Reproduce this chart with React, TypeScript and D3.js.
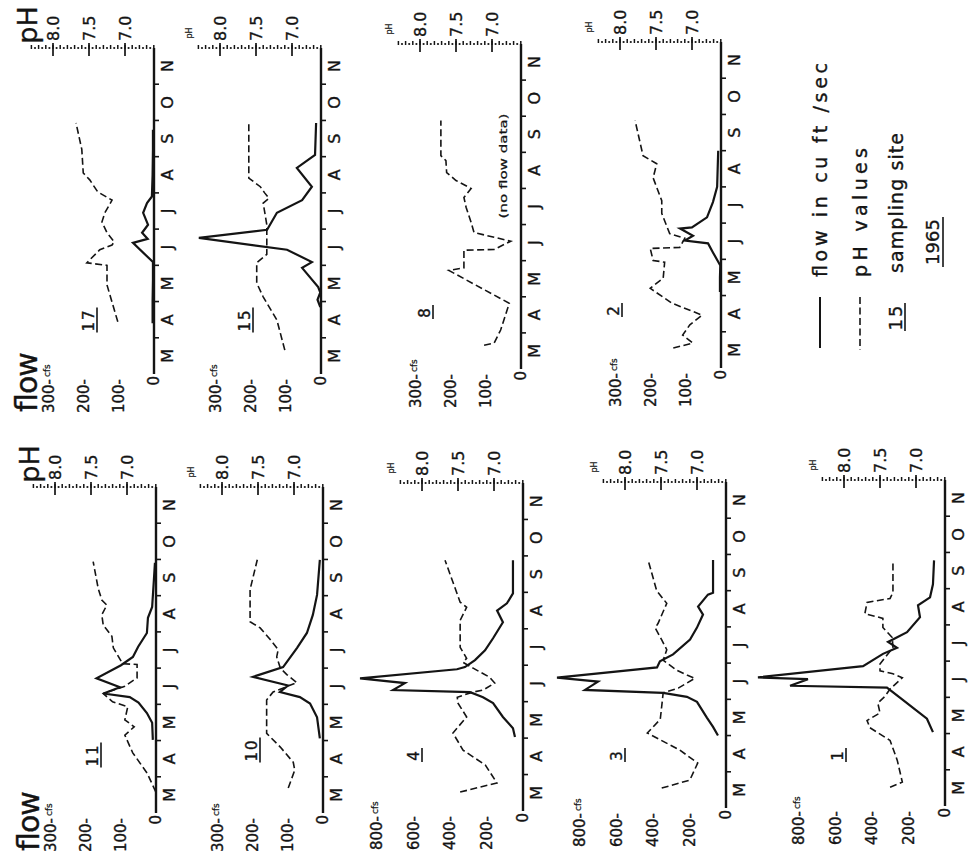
import React from 'react';
import * as d3 from 'd3';

type Pt = [number, number];

// time is a decimal month: 3 = 1 March ... 12 = 1 December
const monthLabels = ['M', 'A', 'M', 'J', 'J', 'A', 'S', 'O', 'N'];
const monthStarts = [3, 4, 5, 6, 7, 8, 9, 10, 11];
const phTickValues = [8.0, 7.5, 7.0];
const phTickLabels = ['8.0', '7.5', '7.0'];
const flowTicksSmall = [0, 100, 200, 300];
const flowTicksLarge = [0, 200, 400, 600, 800];

// [month, cfs]
const flow17: Pt[] = [[4.4, 4], [5.0, 4], [5.6, 3], [6.09, 3], [6.62, 60], [6.73, 18], [6.9, 34], [7.12, 17], [7.45, 31], [7.72, 20], [7.9, 6], [8.5, 4], [9.2, 3], [9.74, 3]];
const flow15: Pt[] = [[4.85, 2], [5.05, 10], [5.25, 2], [5.4, 8], [5.93, 54], [6.09, 26], [6.43, 97], [6.76, 349], [6.98, 154], [7.45, 126], [7.8, 54], [8.17, 26], [8.69, 69], [9.05, 17], [9.93, 14]];
const flow2: Pt[] = [[5.1, 3], [5.5, 3], [5.83, 2], [6.19, 23], [6.44, 37], [6.52, 103], [6.65, 80], [6.85, 117], [6.88, 83], [7.16, 40], [7.58, 23], [8.0, 11], [9.0, 8]];
const flow11: Pt[] = [[5.02, 9], [5.49, 11], [5.76, 26], [6.05, 50], [6.2, 75], [6.3, 150], [6.47, 103], [6.72, 170], [7.08, 100], [7.31, 66], [7.59, 51], [7.97, 26], [8.39, 23], [8.69, 11], [9.44, 6], [9.91, 3]];
const flow10: Pt[] = [[5.06, 9], [5.64, 17], [6.02, 37], [6.2, 66], [6.34, 123], [6.52, 100], [6.76, 200], [7.03, 114], [7.56, 74], [7.97, 46], [8.47, 29], [9.02, 17], [9.99, 9]];
const flow4: Pt[] = [[5.03, 44], [5.27, 55], [5.58, 110], [5.96, 164], [6.12, 219], [6.26, 290], [6.32, 712], [6.51, 647], [6.64, 893], [6.89, 362], [6.95, 318], [7.14, 263], [7.41, 208], [7.74, 164], [8.18, 110], [8.5, 142], [8.7, 88], [8.97, 55], [9.88, 55]];
const flow3: Pt[] = [[5.0, 44], [5.24, 71], [5.49, 104], [5.93, 159], [6.07, 214], [6.18, 345], [6.26, 773], [6.49, 701], [6.6, 926], [6.88, 378], [7.05, 362], [7.24, 290], [7.65, 197], [7.98, 159], [8.34, 126], [8.56, 153], [8.89, 99], [8.94, 71], [9.85, 71]];
const flow1: Pt[] = [[5.04, 66], [5.41, 99], [5.71, 175], [5.99, 247], [6.27, 318], [6.32, 849], [6.5, 751], [6.55, 1025], [6.86, 449], [7.2, 340], [7.37, 263], [7.53, 312], [7.8, 208], [8.21, 137], [8.54, 148], [8.76, 82], [9.12, 66], [9.78, 60]];

// [month, pH]
const ph17: Pt[] = [[4.44, 7.10], [5.46, 7.25], [6.0, 7.25], [6.07, 7.53], [6.43, 7.35], [6.56, 7.18], [6.65, 7.15], [6.9, 7.25], [7.2, 7.32], [7.45, 7.28], [7.8, 7.18], [8.03, 7.38], [8.36, 7.49], [8.55, 7.58], [9.2, 7.6], [9.93, 7.68]];
const ph15: Pt[] = [[3.66, 7.10], [4.49, 7.21], [5.13, 7.40], [5.51, 7.49], [6.07, 7.49], [6.3, 7.35], [7.12, 7.35], [7.72, 7.4], [7.85, 7.32], [8.0, 7.38], [8.17, 7.44], [8.41, 7.6], [9.93, 7.6]];
const ph8: Pt[] = [[3.66, 7.11], [3.72, 6.97], [4.08, 6.88], [4.82, 6.76], [5.73, 7.6], [5.8, 7.39], [6.29, 7.39], [6.31, 6.97], [6.54, 6.74], [6.78, 7.25], [7.06, 7.29], [7.48, 7.36], [7.75, 7.39], [8.0, 7.29], [8.22, 7.5], [8.44, 7.63], [8.77, 7.64], [8.91, 7.71], [9.88, 7.71]];
const ph2: Pt[] = [[3.55, 7.26], [3.69, 6.99], [3.91, 7.13], [4.19, 7.03], [4.46, 6.86], [4.79, 7.28], [5.2, 7.58], [5.48, 7.4], [5.92, 7.38], [5.97, 7.54], [6.3, 7.58], [6.33, 7.17], [6.58, 7.1], [6.71, 7.31], [7.27, 7.42], [7.62, 7.42], [8.25, 7.54], [8.64, 7.49], [8.86, 7.68], [9.83, 7.79]];
const ph11: Pt[] = [[3.58, 6.6], [4.1, 6.72], [4.66, 6.92], [5.15, 7.03], [5.38, 6.9], [5.57, 7.03], [5.93, 6.99], [6.07, 7.2], [6.3, 7.33], [6.5, 7.03], [6.73, 6.86], [7.1, 6.86], [7.12, 7.06], [7.56, 7.19], [7.88, 7.21], [8.19, 7.33], [8.47, 7.35], [8.74, 7.28], [8.88, 7.35], [9.2, 7.4], [9.94, 7.47]];
const ph10: Pt[] = [[3.69, 7.08], [4.18, 6.99], [4.4, 7.01], [4.82, 7.19], [5.2, 7.38], [6.12, 7.38], [6.17, 7.36], [6.34, 7.29], [6.6, 6.96], [6.82, 7.1], [7.0, 7.19], [7.31, 7.24], [7.51, 7.22], [7.79, 7.33], [8.11, 7.47], [8.28, 7.61], [9.17, 7.61], [9.99, 7.51]];
const ph4: Pt[] = [[3.52, 7.47], [3.77, 6.96], [4.26, 7.12], [4.67, 7.43], [5.14, 7.57], [5.58, 7.38], [5.96, 7.5], [6.12, 7.51], [6.26, 7.3], [6.32, 7.15], [6.51, 6.99], [6.67, 7.06], [6.81, 7.19], [6.92, 7.29], [7.08, 7.43], [7.19, 7.38], [7.49, 7.47], [8.23, 7.47], [8.59, 7.38], [8.73, 7.47], [9.88, 7.68]];
const ph3: Pt[] = [[3.55, 7.49], [3.77, 7.1], [4.24, 6.99], [4.6, 7.24], [5.07, 7.69], [5.45, 7.51], [5.81, 7.49], [6.18, 7.47], [6.31, 7.26], [6.58, 7.03], [6.67, 7.14], [6.8, 7.28], [7.08, 7.47], [7.37, 7.42], [7.64, 7.49], [7.97, 7.58], [8.1, 7.54], [8.65, 7.42], [9.0, 7.56], [9.85, 7.68]];
const ph1: Pt[] = [[3.52, 7.36], [3.66, 7.19], [4.26, 7.26], [4.81, 7.36], [5.16, 7.64], [5.36, 7.68], [5.57, 7.5], [5.84, 7.53], [6.03, 7.43], [6.23, 7.36], [6.54, 7.19], [6.65, 7.32], [6.73, 7.5], [6.92, 7.5], [7.1, 7.43], [7.37, 7.32], [7.65, 7.33], [7.93, 7.46], [8.18, 7.46], [8.31, 7.71], [8.62, 7.68], [8.73, 7.36], [8.9, 7.32], [9.78, 7.32]];

const sites = ['17', '15', '8', '2', '11', '10', '4', '3', '1'];
const flowBySite: Record<string, Pt[] | null> = { '17': flow17, '15': flow15, '8': null, '2': flow2, '11': flow11, '10': flow10, '4': flow4, '3': flow3, '1': flow1 };
const phBySite: Record<string, Pt[]> = { '17': ph17, '15': ph15, '8': ph8, '2': ph2, '11': ph11, '10': ph10, '4': ph4, '3': ph3, '1': ph1 };
const flowMaxBySite: Record<string, number> = { '17': 300, '15': 300, '8': 300, '2': 300, '11': 300, '10': 300, '4': 800, '3': 800, '1': 800 };

// layout (screen positions)
const layout: Record<string, { x0: number; yTop: number; yBot: number; lx: number; ly: number; bigLabels: boolean }> = {
  '17': { x0: 154, yTop: 48, yBot: 374, lx: 89, ly: 320, bigLabels: true },
  '15': { x0: 321, yTop: 48, yBot: 374, lx: 245, ly: 320, bigLabels: false },
  '8': { x0: 521, yTop: 44, yBot: 369, lx: 425, ly: 312, bigLabels: false },
  '2': { x0: 721, yTop: 42, yBot: 368, lx: 614, ly: 310, bigLabels: false },
  '11': { x0: 156, yTop: 487, yBot: 813, lx: 93, ly: 755, bigLabels: true },
  '10': { x0: 323, yTop: 487, yBot: 813, lx: 252, ly: 750, bigLabels: false },
  '4': { x0: 523, yTop: 483, yBot: 811, lx: 414, ly: 755, bigLabels: false },
  '3': { x0: 726, yTop: 482, yBot: 808, lx: 617, ly: 755, bigLabels: false },
  '1': { x0: 945, yTop: 480, yBot: 806, lx: 838, ly: 755, bigLabels: false },
};

const W = 969;
const H = 858;
const FONT = "'DejaVu Sans', 'Liberation Sans', sans-serif";
const INK = '#141414';

function RText(props: any) {
  const { x, y, anchor = 'middle', size = 15, dy = '0.36em', children, ...rest } = props;
  return (
    <text
      transform={`translate(${x},${y}) rotate(-90)`}
      textAnchor={anchor}
      fontSize={size}
      dy={dy}
      fill={INK}
      stroke={INK}
      strokeWidth={0.35}
      {...rest}
    >
      {children}
    </text>
  );
}

function Panel({ site }: { site: string }) {
  const L = layout[site];
  const flow = flowBySite[site];
  const ph = phBySite[site];
  const max = flowMaxBySite[site];
  const t = d3.scaleLinear().domain([3, 12]).range([L.yBot, L.yTop]);
  const f = d3.scaleLinear().domain([0, max]).range([L.x0, L.x0 - (max === 800 ? 146 : 105)]);
  const p = d3.scaleLinear().domain([7, 8]).range([L.x0 - 29, L.x0 - 101]);
  const flowLine = d3.line<Pt>().x((d) => f(d[1])).y((d) => t(d[0]));
  const phLine = d3.line<Pt>().x((d) => p(d[1])).y((d) => t(d[0]));
  const fTicks = max === 800 ? flowTicksLarge : flowTicksSmall;
  const dots = d3.range(0, 35).map((i) => 6.6 + i * 0.05);
  const underlineLen = site.length * 11 + 3;

  return (
    <g>
      {/* time axis (flow = 0) */}
      <line x1={L.x0} x2={L.x0} y1={L.yBot} y2={L.yTop} stroke={INK} strokeWidth={2.4} />
      {monthStarts.slice(1).map((m) => (
        <line key={m} x1={L.x0} x2={L.x0 + 5} y1={t(m)} y2={t(m)} stroke={INK} strokeWidth={1.6} />
      ))}
      {monthStarts.map((m, i) => (
        <RText key={'m' + i} x={L.x0 + 13} y={t(m + 0.5)} size={16}>
          {monthLabels[i]}
        </RText>
      ))}

      {/* pH axis (dotted) */}
      {dots.map((v, i) =>
        i % 2 === 0 ? (
          <line key={'d' + i} x1={p(v)} x2={p(v)} y1={L.yTop - 3} y2={L.yTop + 1} stroke={INK} strokeWidth={1.5} />
        ) : (
          <circle key={'d' + i} cx={p(v)} cy={L.yTop} r={1.1} fill={INK} />
        )
      )}
      {phTickValues.map((v, i) => (
        <g key={'pt' + i}>
          <line x1={p(v)} x2={p(v)} y1={L.yTop - 5} y2={L.yTop + 8} stroke={INK} strokeWidth={1.7} />
          <RText x={p(v)} y={L.yTop - 7} anchor="start" size={16}>
            {phTickLabels[i]}
          </RText>
        </g>
      ))}
      {L.bigLabels ? (
        <RText x={L.x0 - 127} y={L.yTop - 23} size={27}>
          pH
        </RText>
      ) : (
        <RText x={L.x0 - 132} y={L.yTop - 15} size={8} strokeWidth={0.2}>
          pH
        </RText>
      )}

      {/* flow axis labels */}
      {fTicks.map((v) =>
        v === 0 ? (
          <RText key={'f' + v} x={f(v)} y={L.yBot + 2} anchor="end" size={15}>
            0
          </RText>
        ) : (
          <RText key={'f' + v} x={f(v)} y={L.yBot + 5} anchor="end" size={15}>
            {`${v}-`}
          </RText>
        )
      )}
      <RText x={f(max) - 2} y={L.yBot + 3} anchor="start" size={9} strokeWidth={0.25}>
        cfs
      </RText>
      {L.bigLabels && (
        <RText x={L.x0 - 117} y={L.yBot + 39} anchor="start" size={30} dy="0" textLength={60} lengthAdjust="spacing">
          flow
        </RText>
      )}

      {/* site label */}
      <RText x={L.lx} y={L.ly} size={15} letterSpacing={2}>
        {site}
      </RText>
      <line x1={L.lx + 8} x2={L.lx + 8} y1={L.ly - underlineLen / 2} y2={L.ly + underlineLen / 2} stroke={INK} strokeWidth={1.6} />

      {/* series */}
      <path d={phLine(ph) || ''} fill="none" stroke={INK} strokeWidth={1.6} strokeDasharray="7 3.5" />
      {flow && <path d={flowLine(flow) || ''} fill="none" stroke={INK} strokeWidth={2.2} strokeLinejoin="miter" />}
      {!flow && (
        <RText x={L.x0 - 18} y={166} size={11} strokeWidth={0.25} textLength={105} lengthAdjust="spacingAndGlyphs">
          (no flow data)
        </RText>
      )}
    </g>
  );
}

function Legend() {
  return (
    <g>
      <line x1={820} x2={820} y1={297} y2={348} stroke={INK} strokeWidth={2} />
      <RText x={820} y={277} anchor="start" size={19} textLength={214} lengthAdjust="spacing">
        flow in cu ft /sec
      </RText>
      <line x1={860} x2={860} y1={297} y2={350} stroke={INK} strokeWidth={1.6} strokeDasharray="7 3.5" />
      <RText x={860} y={277} anchor="start" size={19} textLength={129} lengthAdjust="spacing">
        pH values
      </RText>
      <RText x={896} y={317} size={18} letterSpacing={2}>
        15
      </RText>
      <line x1={905} x2={905} y1={303} y2={331} stroke={INK} strokeWidth={1.6} />
      <RText x={896} y={273} anchor="start" size={19} textLength={140} lengthAdjust="spacing">
        sampling site
      </RText>
      <RText x={933} y={242} size={18}>
        1965
      </RText>
      <line x1={943} x2={943} y1={217} y2={267} stroke={INK} strokeWidth={1.6} />
    </g>
  );
}

export default function App() {
  return (
    <svg
      width={W}
      height={H}
      viewBox={`0 0 ${W} ${H}`}
      style={{ position: 'absolute', left: 0, top: 0, background: '#fff' }}
      fontFamily={FONT}
    >
      <rect width={W} height={H} fill="#fff" />
      {sites.map((s) => (
        <Panel key={s} site={s} />
      ))}
      <Legend />
    </svg>
  );
}
